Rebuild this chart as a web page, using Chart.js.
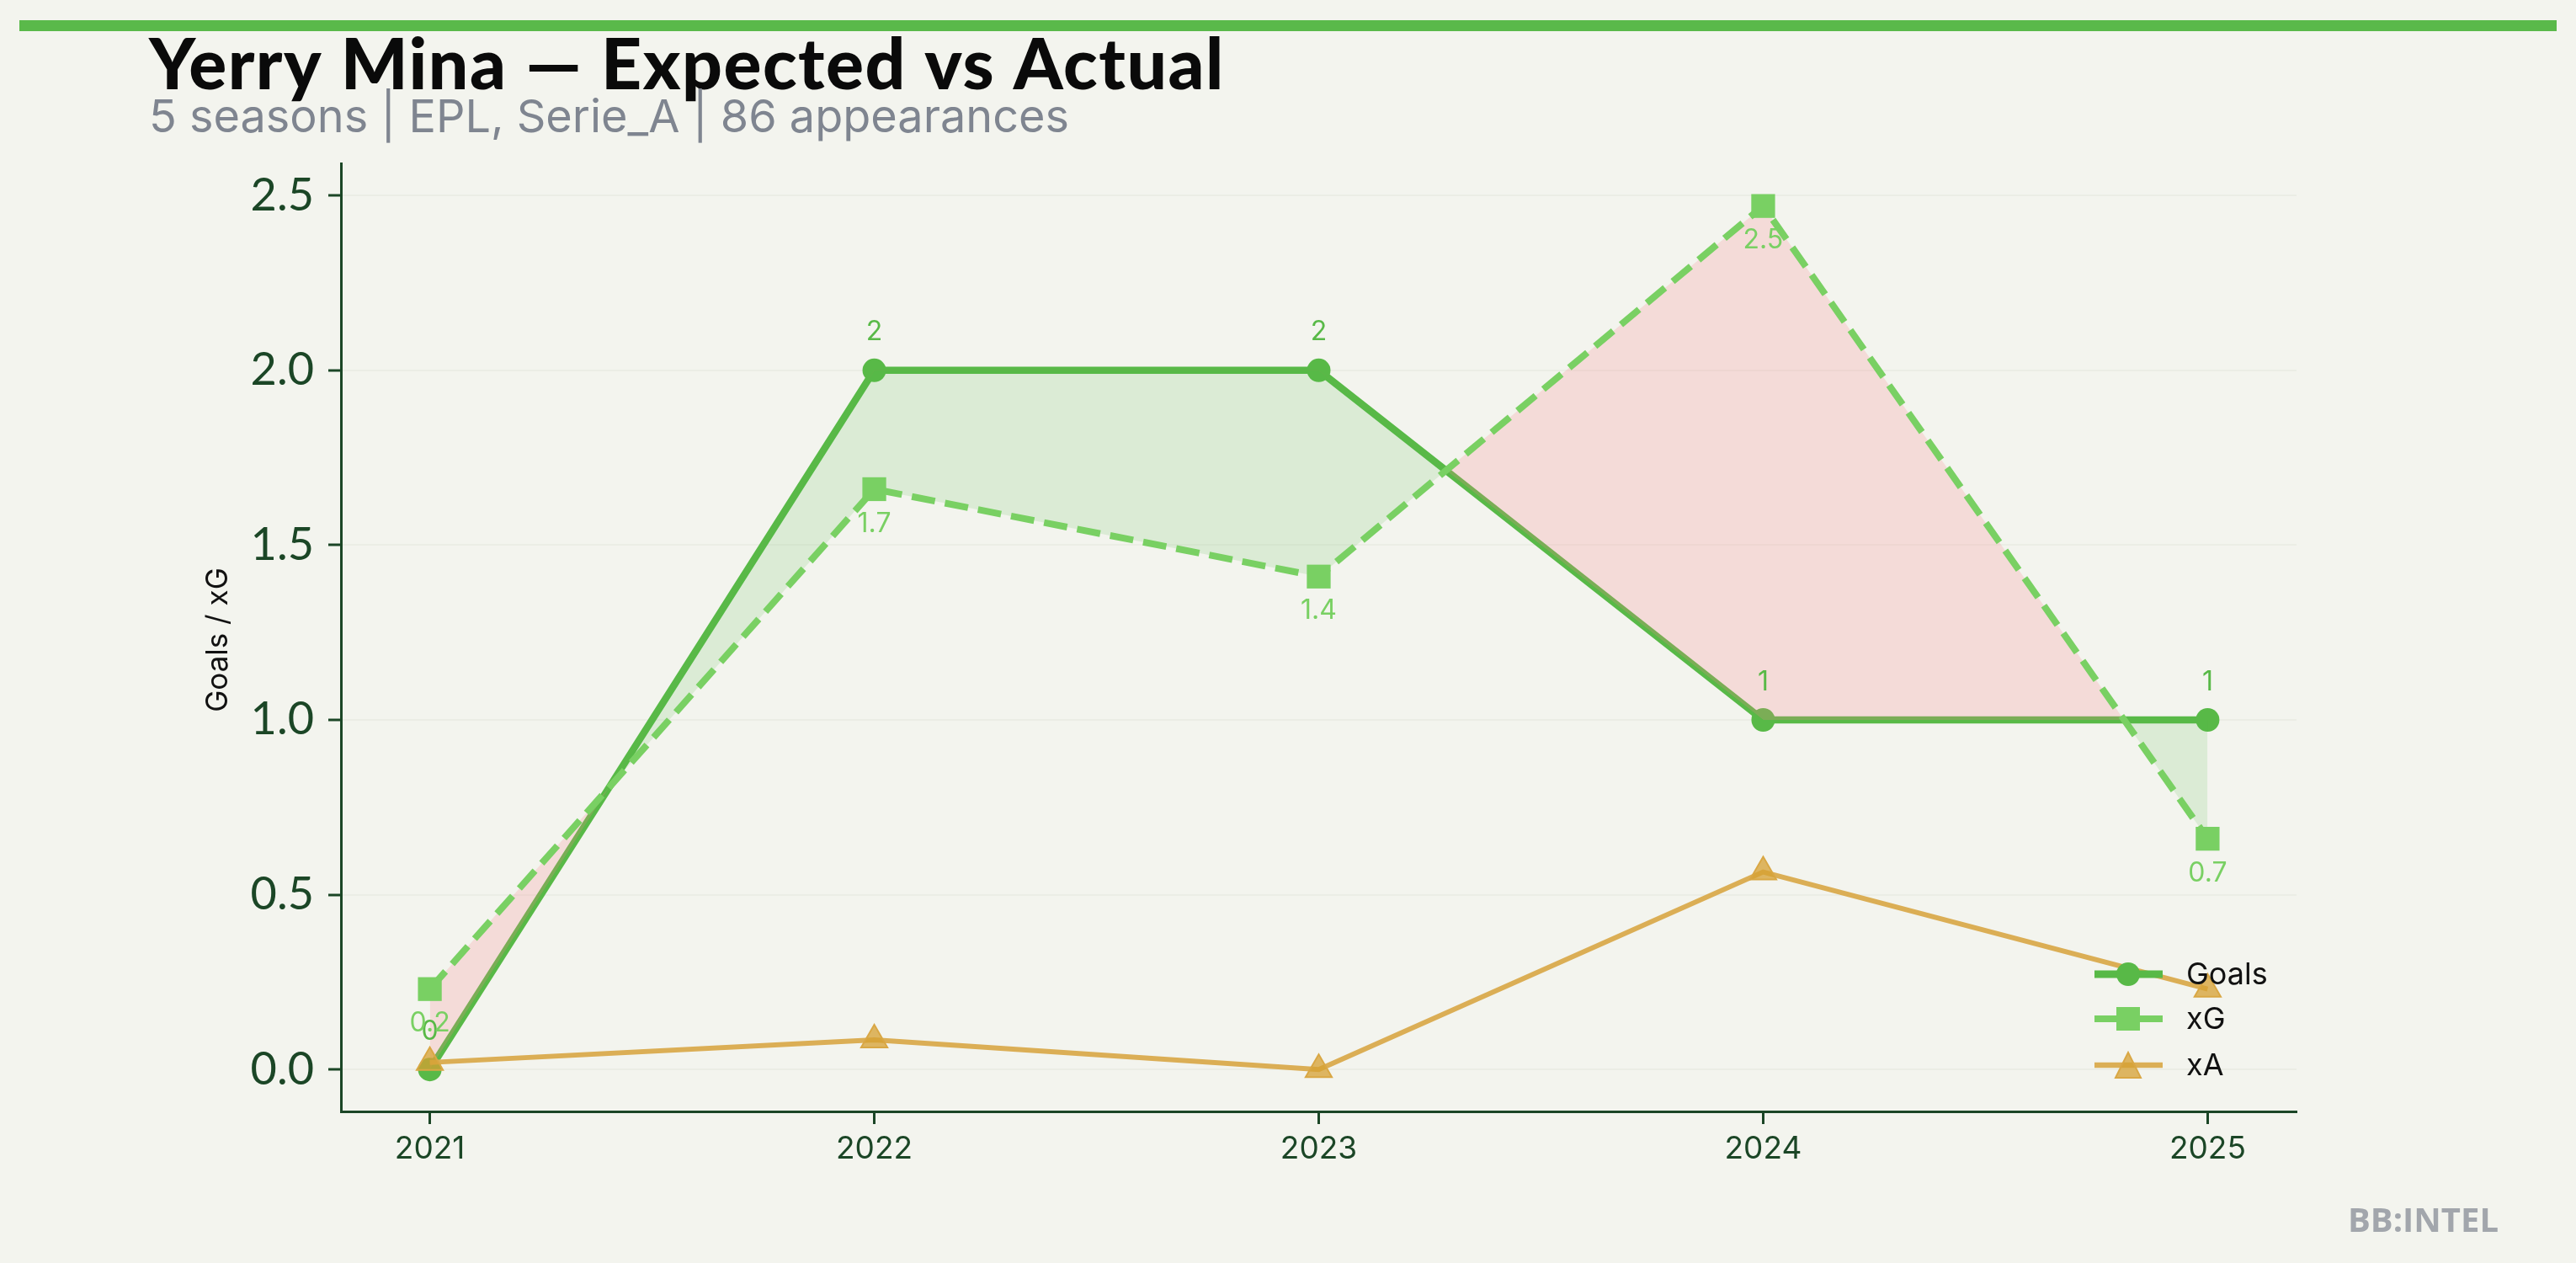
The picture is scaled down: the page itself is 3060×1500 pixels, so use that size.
<!DOCTYPE html>
<html>
<head>
<meta charset="utf-8">
<script src="https://cdn.jsdelivr.net/npm/chart.js@4.4.1/dist/chart.umd.min.js"></script>
<style>
  html, body { margin: 0; padding: 0; background: #f3f4ee; }
  #chart { display: block; }
</style>
</head>
<body>
<canvas id="chart" width="3060" height="1500"></canvas>
<script>
// data
const seasons = [2021, 2022, 2023, 2024, 2025];
const goals = [0, 2, 2, 1, 1];
const xg = [0.23, 1.66, 1.41, 2.47, 0.66];
const xa = [0.02, 0.085, 0.0, 0.565, 0.23];
const yTicks = [0, 0.5, 1, 1.5, 2, 2.5];

const TITLE = 'Yerry Mina \u2014 Expected vs Actual';
const SUBTITLE = '5 seasons | EPL, Serie_A | 86 appearances';

const GOALS_COL = '#58b947';
const XG_COL = '#79d063';
const XA_COL = '#dbae55';
const AXIS_COL = '#1b4626';

const toPoints = vals => seasons.map((s, i) => ({ x: s, y: vals[i] }));

// title, subtitle, axis label, watermark, top bar
const decorPlugin = {
    id: 'decor',
    beforeDraw(chart) {
        const ctx = chart.ctx;
        ctx.save();
        ctx.fillStyle = '#5ab94a';
        ctx.fillRect(23, 24, 3014, 13);
        ctx.restore();
    },
    afterDraw(chart) {
        const ctx = chart.ctx;
        ctx.save();
        ctx.textAlign = 'left';
        ctx.textBaseline = 'alphabetic';
        ctx.fillStyle = '#0a0a0a';
        ctx.font = '900 84px Lato';
        ctx.letterSpacing = '1.5px';
        ctx.fillText(TITLE, 177, 106);
        ctx.letterSpacing = '0px';

        ctx.fillStyle = '#7f8590';
        ctx.font = '400 54px Inter';
        ctx.fillText(SUBTITLE, 177, 157);

        // y axis title
        ctx.save();
        ctx.translate(259, 760);
        ctx.rotate(-Math.PI / 2);
        ctx.textAlign = 'center';
        ctx.textBaseline = 'middle';
        ctx.fillStyle = '#111';
        ctx.font = '400 35px Inter';
        ctx.fillText('Goals / xG', 0, 0);
        ctx.restore();

        // watermark
        ctx.textAlign = 'right';
        ctx.fillStyle = '#a2a6ac';
        ctx.font = '700 40px "Open Sans"';
        ctx.fillText('BB:INTEL', 2968, 1463);
        ctx.restore();
    }
};

// value labels next to Goals and xG points
const valueLabelPlugin = {
    id: 'valueLabels',
    afterDatasetsDraw(chart) {
        const ctx = chart.ctx;
        ctx.save();
        ctx.textAlign = 'center';
        ctx.textBaseline = 'middle';
        ctx.font = '400 32px Inter';
        chart.getDatasetMeta(0).data.forEach((pt, i) => {
            ctx.fillStyle = GOALS_COL;
            ctx.fillText(String(goals[i]), pt.x, pt.y - 45);
        });
        chart.getDatasetMeta(1).data.forEach((pt, i) => {
            ctx.fillStyle = XG_COL;
            ctx.fillText(xg[i].toFixed(1), pt.x, pt.y + 41);
        });
        ctx.restore();
    }
};

// matplotlib-style legend inside the plot, bottom right
const legendPlugin = {
    id: 'mplLegend',
    afterDraw(chart) {
        const ctx = chart.ctx;
        const items = [
            { label: 'Goals', color: GOALS_COL, width: 9, style: 'circle', y: 1157 },
            { label: 'xG', color: XG_COL, width: 8, style: 'rect', y: 1210 },
            { label: 'xA', color: XA_COL, width: 6.5, style: 'triangle', y: 1265 }
        ];
        ctx.save();
        items.forEach(it => {
            ctx.strokeStyle = it.color;
            ctx.lineWidth = it.width;
            ctx.beginPath();
            ctx.moveTo(2488, it.y);
            ctx.lineTo(2569, it.y);
            ctx.stroke();
            const mx = 2528;
            if (it.style === 'circle') {
                ctx.fillStyle = it.color;
                ctx.beginPath();
                ctx.arc(mx, it.y, 14, 0, Math.PI * 2);
                ctx.fill();
            } else if (it.style === 'rect') {
                ctx.fillStyle = it.color;
                ctx.fillRect(mx - 14, it.y - 14, 28, 28);
            } else {
                ctx.fillStyle = 'rgba(214,160,50,0.75)';
                ctx.strokeStyle = '#d9a744';
                ctx.lineWidth = 2;
                ctx.beginPath();
                ctx.moveTo(mx, it.y - 15);
                ctx.lineTo(mx + 15, it.y + 15);
                ctx.lineTo(mx - 15, it.y + 15);
                ctx.closePath();
                ctx.fill();
                ctx.stroke();
            }
            ctx.fillStyle = '#111';
            ctx.font = '400 36px Inter';
            ctx.textAlign = 'left';
            ctx.textBaseline = 'middle';
            ctx.fillText(it.label, 2597, it.y + 1);
        });
        ctx.restore();
    }
};

new Chart(document.getElementById('chart').getContext('2d'), {
    type: 'line',
    data: {
        datasets: [
            {
                label: 'Goals',
                data: toPoints(goals),
                borderColor: GOALS_COL,
                backgroundColor: GOALS_COL,
                borderWidth: 8.5,
                pointRadius: 14,
                pointStyle: 'circle',
                pointBackgroundColor: GOALS_COL,
                pointBorderWidth: 0,
                fill: false,
                order: 2
            },
            {
                label: 'xG',
                data: toPoints(xg),
                borderColor: XG_COL,
                borderWidth: 8,
                borderDash: [28, 12],
                pointRadius: 20,
                pointStyle: 'rect',
                pointBackgroundColor: XG_COL,
                pointBorderWidth: 0,
                fill: {
                    target: 0,
                    above: 'rgba(250,130,140,0.22)',
                    below: 'rgba(88,185,71,0.15)'
                },
                order: 1
            },
            {
                label: 'xA',
                data: toPoints(xa),
                borderColor: XA_COL,
                borderWidth: 6,
                pointRadius: 18,
                pointStyle: 'triangle',
                pointBackgroundColor: 'rgba(214,160,50,0.75)',
                pointBorderColor: '#d9a744',
                pointBorderWidth: 2,
                fill: false,
                order: 0
            }
        ]
    },
    options: {
        responsive: false,
        devicePixelRatio: 1,
        animation: false,
        layout: { padding: { left: 0, top: 194, right: 332, bottom: 0 } },
        plugins: {
            legend: { display: false },
            tooltip: { enabled: false }
        },
        scales: {
            x: {
                type: 'linear',
                min: 2020.8,
                max: 2025.2,
                afterBuildTicks: scale => { scale.ticks = seasons.map(v => ({ value: v })); },
                afterFit: scale => { scale.height = 180; },
                ticks: {
                    color: AXIS_COL,
                    font: { family: 'Inter', size: 37 },
                    padding: 8,
                    callback: v => String(v)
                },
                grid: {
                    drawOnChartArea: false,
                    tickLength: 15,
                    tickColor: AXIS_COL,
                    tickWidth: 3
                },
                border: { color: AXIS_COL, width: 3 }
            },
            y: {
                min: -0.12,
                max: 2.592,
                afterBuildTicks: scale => { scale.ticks = yTicks.map(v => ({ value: v })); },
                afterFit: scale => { scale.width = 405; },
                ticks: {
                    color: AXIS_COL,
                    font: { family: 'Lato', size: 54 },
                    padding: 17,
                    callback: v => Number(v).toFixed(1)
                },
                grid: {
                    color: '#ebede5',
                    lineWidth: 2,
                    tickLength: 15,
                    tickColor: AXIS_COL,
                    tickWidth: 3
                },
                border: { color: AXIS_COL, width: 3 }
            }
        }
    },
    plugins: [decorPlugin, valueLabelPlugin, legendPlugin]
});
</script>
</body>
</html>
